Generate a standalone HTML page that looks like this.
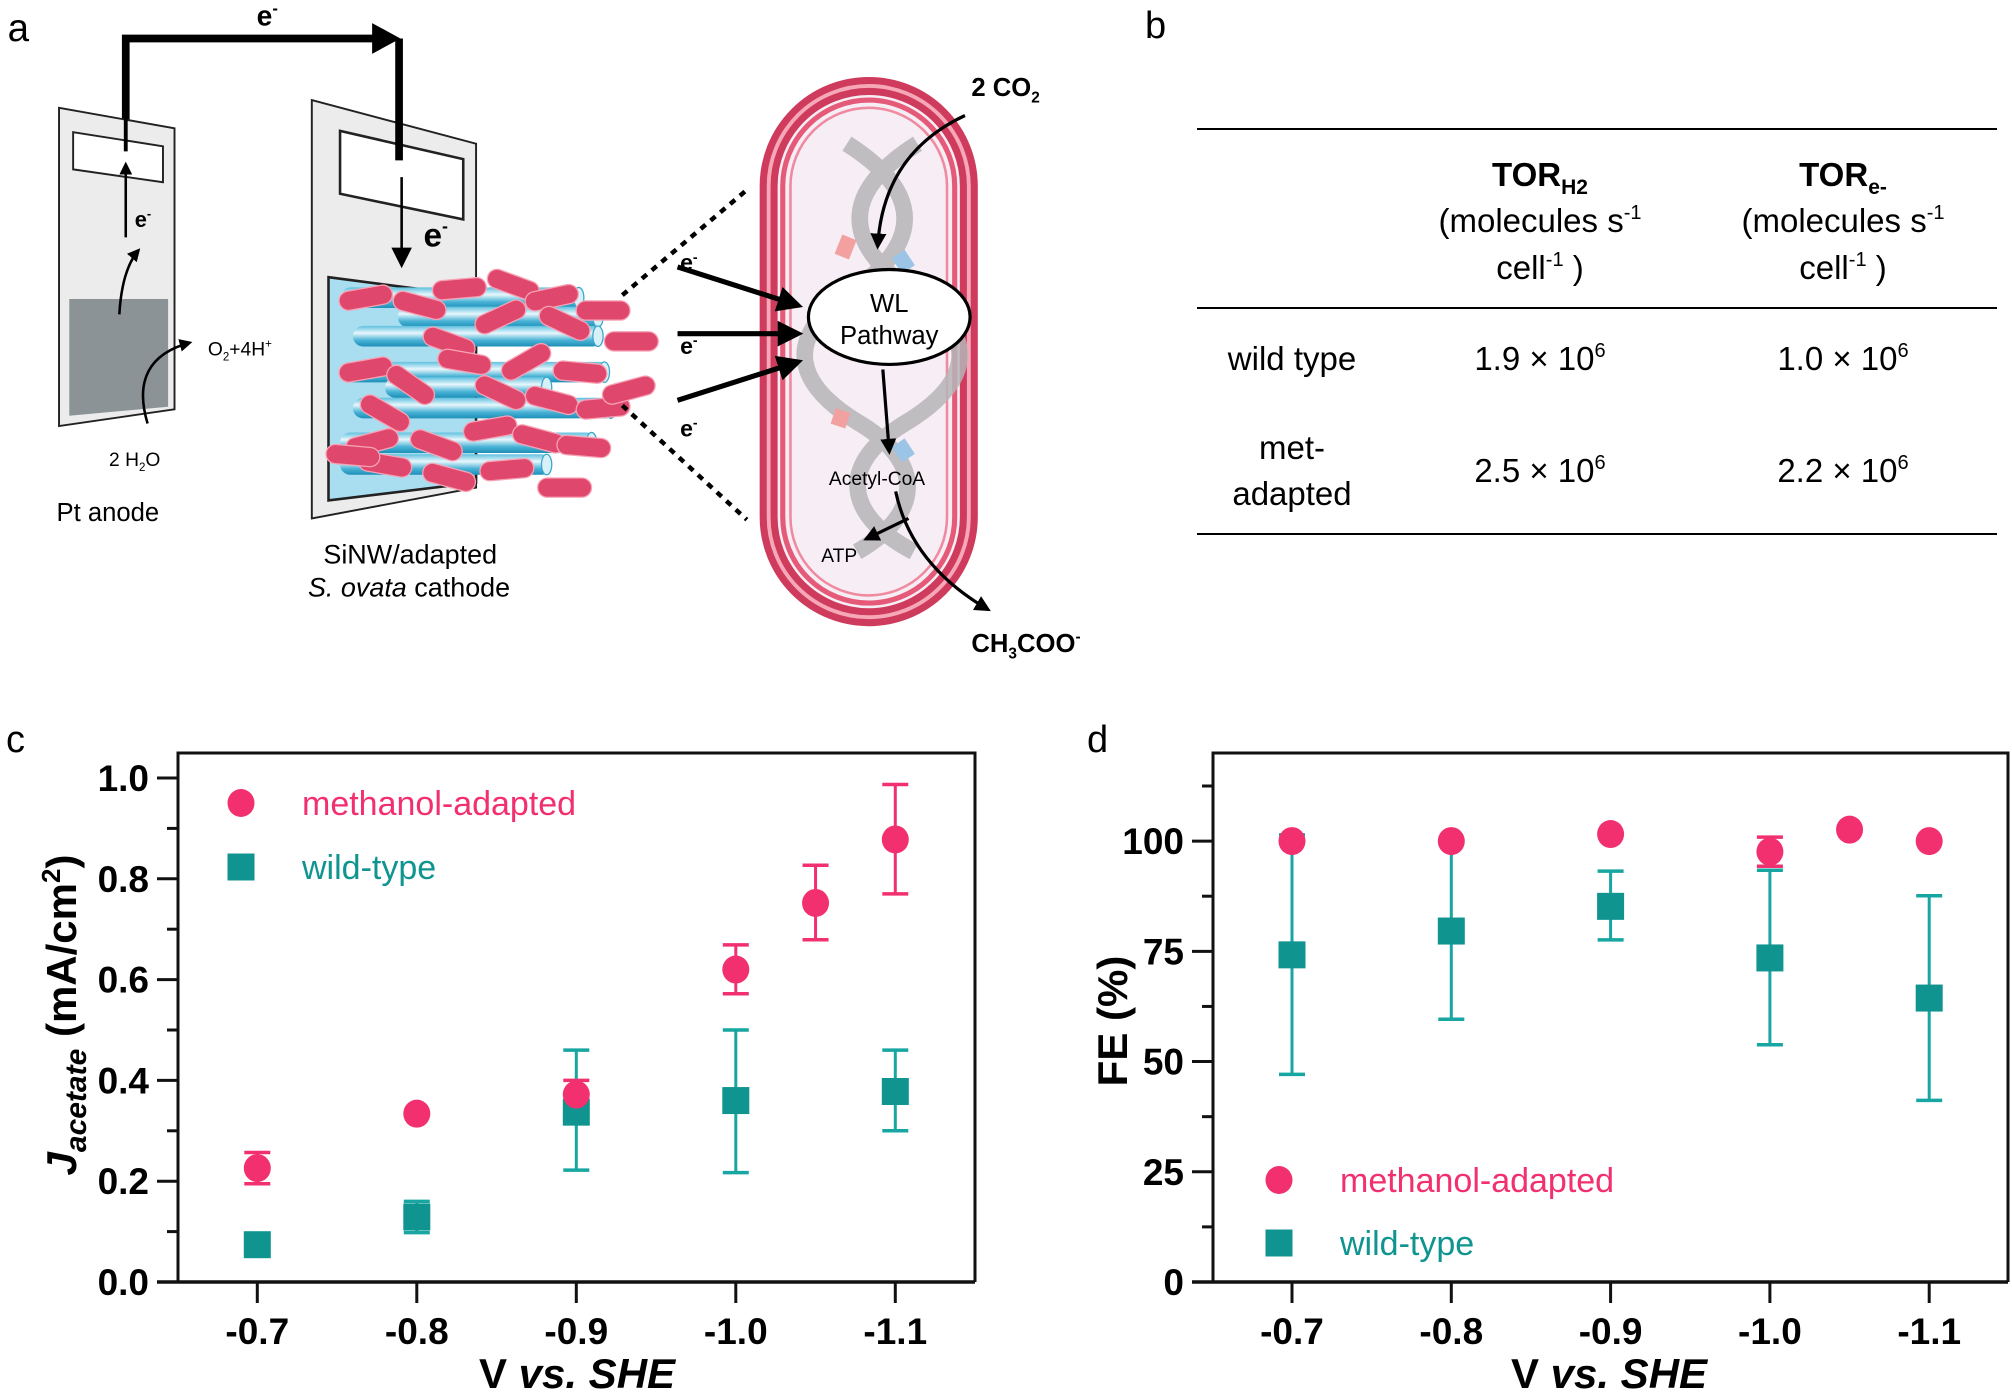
<!DOCTYPE html>
<html><head><meta charset="utf-8"><style>
html,body{margin:0;padding:0;background:#fff}
#wrap{position:relative;width:2012px;height:1399px;overflow:hidden;font-family:"Liberation Sans",sans-serif}
svg{position:absolute;left:0;top:0}
text{font-family:"Liberation Sans",sans-serif}
</style></head><body>
<div id="wrap">
<svg id="illus" width="2012" height="1399" viewBox="0 0 2012 1399">
<defs>
<linearGradient id="wire" x1="0" y1="0" x2="0" y2="1"><stop offset="0" stop-color="#5fc0df"/><stop offset="0.35" stop-color="#e8f7fc"/><stop offset="0.7" stop-color="#49b3d6"/><stop offset="1" stop-color="#1e8fb8"/></linearGradient>
<marker id="ah" markerWidth="8" markerHeight="8" refX="6" refY="4" orient="auto" markerUnits="strokeWidth"><path d="M0,0 L8,4 L0,8 z" fill="#000"/></marker>
<marker id="ahs" markerWidth="5" markerHeight="5" refX="4" refY="2.5" orient="auto" markerUnits="strokeWidth"><path d="M0,0 L5,2.5 L0,5 z" fill="#000"/></marker>
</defs>
<g transform="scale(1.2832)">
<text x="6" y="32" font-size="30">a</text>
<path d="M98,110 L98,30 L292,30" fill="none" stroke="#000" stroke-width="6"/>
<path d="M290,18 L312,30 L290,42 z" fill="#000"/>
<text x="200" y="20" font-size="22" font-weight="bold">e<tspan font-size="13" dy="-9">-</tspan></text>
<!-- anode -->
<path d="M46,84 L136,100 L136,319 L46,332 z" fill="#ececec" stroke="#222" stroke-width="1.5"/>
<path d="M57,103 L127,114 L127,142 L57,132 z" fill="#fff" stroke="#222" stroke-width="1.5"/>
<path d="M54,233 L131,233 L131,317 L54,324 z" fill="#8b9397"/>
<line x1="98" y1="30" x2="98" y2="118" stroke="#000" stroke-width="3"/>
<line x1="98" y1="185" x2="98" y2="128" stroke="#000" stroke-width="2" marker-end="url(#ahs)"/>
<text x="105" y="177" font-size="17" font-weight="bold">e<tspan font-size="10" dy="-7">-</tspan></text>
<path d="M93,245 Q95,210 108,195" fill="none" stroke="#000" stroke-width="2" marker-end="url(#ahs)"/>
<path d="M115,330 Q100,280 148,267" fill="none" stroke="#000" stroke-width="2" marker-end="url(#ahs)"/>
<text x="162" y="277" font-size="15">O<tspan font-size="9" dy="4">2</tspan><tspan dy="-4">+4H</tspan><tspan font-size="9" dy="-6">+</tspan></text>
<text x="85" y="363" font-size="15">2 H<tspan font-size="9" dy="4">2</tspan><tspan dy="-4">O</tspan></text>
<text x="44" y="406" font-size="20">Pt anode</text>
<!-- cathode -->
<path d="M243,78 L371,112 L371,380 L243,404 z" fill="#ececec" stroke="#222" stroke-width="1.5"/>
<path d="M265,102 L361,124 L361,171 L265,151 z" fill="#fff" stroke="#222" stroke-width="2"/>
<line x1="311" y1="30" x2="311" y2="125" stroke="#000" stroke-width="6"/>
<line x1="313" y1="138" x2="313" y2="205" stroke="#000" stroke-width="2" marker-end="url(#ah)"/>
<text x="330" y="192" font-size="26" font-weight="bold">e<tspan font-size="14" dy="-11">-</tspan></text>
<path d="M256,216 L371,231 L371,376 L256,390 z" fill="#a9def0" stroke="#222" stroke-width="2"/>
<g id="wires"></g>
<g id="bacteria"></g>
<text x="252" y="439" font-size="21">SiNW/adapted</text>
<text x="240" y="465" font-size="21"><tspan font-style="italic">S. ovata</tspan> cathode</text>
<line x1="485" y1="230" x2="582" y2="148" stroke="#000" stroke-width="3.5" stroke-dasharray="5,5"/>
<line x1="485" y1="316" x2="582" y2="405" stroke="#000" stroke-width="3.5" stroke-dasharray="5,5"/>
<g>
<rect x="599" y="67" width="156" height="414" rx="78" fill="#f6eef4" stroke="#cf3b5c" stroke-width="14"/>
<rect x="599" y="67" width="156" height="414" rx="78" fill="none" stroke="#f7a8b8" stroke-width="3"/>
<rect x="610" y="78" width="134" height="392" rx="67" fill="none" stroke="#e55a78" stroke-width="4"/>
<rect x="616" y="84" width="122" height="380" rx="61" fill="none" stroke="#f08aa0" stroke-width="2"/>
</g>
<g stroke="#b7b5b9" stroke-width="13" fill="none" opacity="0.85">
<path d="M660,112 C720,150 720,190 660,230 C610,265 620,300 670,330 C720,360 720,400 668,430"/>
<path d="M715,112 C655,150 655,190 715,230 C765,265 755,300 705,330 C655,360 655,400 712,430"/>
</g>
<path d="M662,185 l-6,15" stroke="#f2a0a0" stroke-width="12"/>
<path d="M700,198 l8,12" stroke="#9cc4e6" stroke-width="12"/>
<path d="M657,320 l-4,12" stroke="#f2a0a0" stroke-width="12"/>
<path d="M700,345 l8,12" stroke="#9cc4e6" stroke-width="12"/>
<ellipse cx="693" cy="247" rx="63" ry="37" fill="#fff" stroke="#000" stroke-width="2.5"/>
<text x="693" y="243" font-size="20" text-anchor="middle">WL</text>
<text x="693" y="268" font-size="20" text-anchor="middle">Pathway</text>
<line x1="528" y1="208" x2="622" y2="238" stroke="#000" stroke-width="4" marker-end="url(#ahs)"/>
<line x1="528" y1="260" x2="622" y2="260" stroke="#000" stroke-width="4" marker-end="url(#ahs)"/>
<line x1="528" y1="312" x2="622" y2="282" stroke="#000" stroke-width="4" marker-end="url(#ahs)"/>
<text x="530" y="211" font-size="18" font-weight="bold">e<tspan font-size="11" dy="-7">-</tspan></text>
<text x="530" y="276" font-size="18" font-weight="bold">e<tspan font-size="11" dy="-7">-</tspan></text>
<text x="530" y="340" font-size="18" font-weight="bold">e<tspan font-size="11" dy="-7">-</tspan></text>
<text x="757" y="75" font-size="20" font-weight="bold">2 CO<tspan font-size="12" dy="5">2</tspan></text>
<path d="M752,90 Q688,120 684,192" fill="none" stroke="#000" stroke-width="2.5" marker-end="url(#ahs)"/>
<line x1="688" y1="288" x2="693" y2="352" stroke="#000" stroke-width="2.5" marker-end="url(#ahs)"/>
<text x="646" y="378" font-size="15">Acetyl-CoA</text>
<path d="M698,383 Q710,440 770,475" fill="none" stroke="#000" stroke-width="2.5" marker-end="url(#ahs)"/>
<line x1="708" y1="404" x2="675" y2="420" stroke="#000" stroke-width="2.5" marker-end="url(#ahs)"/>
<text x="640" y="438" font-size="15">ATP</text>
<text x="757" y="508" font-size="20" font-weight="bold">CH<tspan font-size="12" dy="5">3</tspan><tspan dy="-5">COO</tspan><tspan font-size="12" dy="-8">-</tspan></text>
</g>
</svg>

<svg id="tbl" width="2012" height="1399">
<text x="1145" y="38" font-size="38">b</text>
<line x1="1197" y1="129" x2="1997" y2="129" stroke="#000" stroke-width="2"/>
<line x1="1197" y1="308" x2="1997" y2="308" stroke="#000" stroke-width="2"/>
<line x1="1197" y1="534" x2="1997" y2="534" stroke="#000" stroke-width="2"/>
<g font-size="33" text-anchor="middle">
<text x="1540" y="186" font-weight="bold">TOR<tspan font-size="21" dy="8">H2</tspan></text>
<text x="1540" y="232">(molecules s<tspan font-size="20" dy="-13">-1</tspan></text>
<text x="1540" y="279">cell<tspan font-size="20" dy="-13">-1</tspan><tspan dy="13"> )</tspan></text>
<text x="1843" y="186" font-weight="bold">TOR<tspan font-size="21" dy="8">e-</tspan></text>
<text x="1843" y="232">(molecules s<tspan font-size="20" dy="-13">-1</tspan></text>
<text x="1843" y="279">cell<tspan font-size="20" dy="-13">-1</tspan><tspan dy="13"> )</tspan></text>
<text x="1292" y="370">wild type</text>
<text x="1540" y="370">1.9 × 10<tspan font-size="20" dy="-13">6</tspan></text>
<text x="1843" y="370">1.0 × 10<tspan font-size="20" dy="-13">6</tspan></text>
<text x="1292" y="459">met-</text>
<text x="1292" y="505">adapted</text>
<text x="1540" y="482">2.5 × 10<tspan font-size="20" dy="-13">6</tspan></text>
<text x="1843" y="482">2.2 × 10<tspan font-size="20" dy="-13">6</tspan></text>
</g>
</svg>

<svg id="charts" width="2012" height="1399"></svg>
</div>
<script>
// ---- Chart c data ----
const cCats = [-0.7, -0.8, -0.9, -1.0, -1.05, -1.1];
const cMethVals = [0.226, 0.334, 0.372, 0.620, 0.752, 0.878];
const cMethHi = [0.257, null, 0.400, 0.669, 0.827, 0.987];
const cMethLo = [0.195, null, 0.345, 0.572, 0.679, 0.770];
const cWildCats = [-0.7, -0.8, -0.9, -1.0, -1.1];
const cWildVals = [0.074, 0.129, 0.337, 0.360, 0.378];
const cWildHi = [null, 0.160, 0.460, 0.500, 0.460];
const cWildLo = [null, 0.098, 0.222, 0.217, 0.300];
const cXTicks = [-0.7, -0.8, -0.9, -1.0, -1.1];
const cXTickLabels = ["-0.7", "-0.8", "-0.9", "-1.0", "-1.1"];
const cYTicks = [0, 0.2, 0.4, 0.6, 0.8, 1.0];
const cYTickLabels = ["0.0", "0.2", "0.4", "0.6", "0.8", "1.0"];
const cYMinor = [0.1, 0.3, 0.5, 0.7, 0.9];
// ---- Chart d data ----
const dCats = [-0.7, -0.8, -0.9, -1.0, -1.05, -1.1];
const dMethVals = [100, 100, 101.6, 97.6, 102.6, 100];
const dMethHi = [null, null, null, 100.9, null, null];
const dMethLo = [null, null, null, 94.3, null, null];
const dWildCats = [-0.7, -0.8, -0.9, -1.0, -1.1];
const dWildVals = [74.2, 79.6, 85.2, 73.5, 64.4];
const dWildHi = [101.4, 99.6, 93.2, 93.4, 87.6];
const dWildLo = [47.1, 59.6, 77.6, 53.8, 41.2];
const dXTicks = [-0.7, -0.8, -0.9, -1.0, -1.1];
const dXTickLabels = ["-0.7", "-0.8", "-0.9", "-1.0", "-1.1"];
const dYTicks = [0, 25, 50, 75, 100];
const dYTickLabels = ["0", "25", "50", "75", "100"];
const dYMinor = [12.5, 37.5, 62.5, 87.5, 112.5];

const PINK = "#f2306f", TEAL = "#0f9490", TEALL = "#17a6a1";
const NS = "http://www.w3.org/2000/svg";
const svg = document.getElementById("charts");
function mk(tag, attrs, parent) {
  const e = document.createElementNS(NS, tag);
  for (const k in attrs) e.setAttribute(k, attrs[k]);
  (parent || svg).appendChild(e);
  return e;
}
function txt(x, y, s, attrs, parent) {
  const e = mk("text", Object.assign({x: x, y: y}, attrs), parent);
  e.textContent = s;
  return e;
}

function drawChart(cfg) {
  const g = mk("g", {});
  
  
  const X = v => cfg.x0 + (cfg.xv0 - v) * cfg.xs;
  const Y = v => cfg.y0 - v * cfg.ys;
  const fr = mk("path", {d: `M${cfg.left},${cfg.y0} L${cfg.left},${cfg.top} L${cfg.right},${cfg.top} L${cfg.right},${cfg.y0}`, fill: "none", stroke: "#111", "stroke-width": 3}, g);
  
  
  const xa = mk("line", {x1: cfg.axStart, y1: cfg.y0, x2: cfg.right, y2: cfg.y0, stroke: "#111", "stroke-width": 3.5}, g);
  
  
  cfg.yTicks.forEach((v, i) => {
    mk("line", {x1: cfg.left - 21, y1: Y(v), x2: cfg.left, y2: Y(v), stroke: "#111", "stroke-width": 3}, g);
    const t = txt(cfg.left - 29, Y(v) + 13, cfg.yLabels[i], {"font-size": 37, "font-weight": "bold", "text-anchor": "end"}, g);
    
    
  });
  cfg.yMinor.forEach(v => mk("line", {x1: cfg.left - 11, y1: Y(v), x2: cfg.left, y2: Y(v), stroke: "#111", "stroke-width": 3}, g));
  cfg.xTicks.forEach((v, i) => {
    mk("line", {x1: X(v), y1: cfg.y0, x2: X(v), y2: cfg.y0 + 21, stroke: "#111", "stroke-width": 3}, g);
    const t = txt(X(v), cfg.y0 + 62, cfg.xLabels[i], {"font-size": 37, "font-weight": "bold", "text-anchor": "middle"}, g);
    
    
  });
  function errs(cats, hi, lo, color) {
    cats.forEach((c, i) => {
      if (hi[i] == null) return;
      const x = X(c);
      mk("line", {x1: x, y1: Y(hi[i]), x2: x, y2: Y(lo[i]), stroke: color, "stroke-width": 3}, g);
      mk("line", {x1: x - 13, y1: Y(hi[i]), x2: x + 13, y2: Y(hi[i]), stroke: color, "stroke-width": 3.5}, g);
      mk("line", {x1: x - 13, y1: Y(lo[i]), x2: x + 13, y2: Y(lo[i]), stroke: color, "stroke-width": 3.5}, g);
    });
  }
  errs(cfg.wCats, cfg.wHi, cfg.wLo, TEALL);
  errs(cfg.mCats, cfg.mHi, cfg.mLo, PINK);
  cfg.wCats.forEach((c, i) => {
    const r = mk("rect", {x: X(c) - 13.5, y: Y(cfg.wVals[i]) - 13.5, width: 27, height: 27, fill: TEAL}, g);
    
    
  });
  cfg.mCats.forEach((c, i) => {
    const ci = mk("ellipse", {cx: X(c), cy: Y(cfg.mVals[i]), rx: 13.5, ry: 14, fill: PINK}, g);
    
    
  });
  const l1 = mk("ellipse", {cx: cfg.legX, cy: cfg.legY1, rx: 13.5, ry: 14, fill: PINK}, g);
  
  
  const lt1 = txt(cfg.legX + 61, cfg.legY1 + 12, "methanol-adapted", {"font-size": 34, fill: PINK}, g);
  
  
  const l2 = mk("rect", {x: cfg.legX - 13.5, y: cfg.legY2 - 13.5, width: 27, height: 27, fill: TEAL}, g);
  
  
  const lt2 = txt(cfg.legX + 61, cfg.legY2 + 12, "wild-type", {"font-size": 34, fill: TEAL}, g);
  
  
  const xt = txt(cfg.xTitleX, 1388, "", {"font-size": 42, "font-weight": "bold", "text-anchor": "middle"}, g);
  xt.innerHTML = 'V <tspan font-style="italic">vs. SHE</tspan>';
  
  
  const yt = txt(0, 0, "", {"font-size": 42, "font-weight": "bold", "text-anchor": "middle", transform: `translate(${cfg.yTitleX},${cfg.yTitleY}) rotate(-90)`}, g);
  yt.innerHTML = cfg.yTitle;
  
  
  const pl = txt(cfg.plX, 752, cfg.panel, {"font-size": 38}, g);
  
  
}

drawChart({name: "chart-c-acetate-current", panel: "c", plX: 6,
  left: 178, right: 975, top: 753, y0: 1282, axStart: 157,
  x0: 257.3, xv0: -0.7, xs: 1595, ys: 504,
  xTicks: cXTicks, xLabels: cXTickLabels, yTicks: cYTicks, yLabels: cYTickLabels, yMinor: cYMinor,
  mCats: cCats, mVals: cMethVals, mHi: cMethHi, mLo: cMethLo,
  wCats: cWildCats, wVals: cWildVals, wHi: cWildHi, wLo: cWildLo,
  legX: 241, legY1: 803, legY2: 867, xTitleX: 577, yTitleX: 76, yTitleY: 1015,
  yTitle: '<tspan font-style="italic">J</tspan><tspan font-style="italic" font-size="30" dy="10">acetate</tspan><tspan dy="-10"> (mA/cm</tspan><tspan font-size="26" dy="-16">2</tspan><tspan dy="16">)</tspan>'});

drawChart({name: "chart-d-faradaic-efficiency", panel: "d", plX: 1087,
  left: 1213, right: 2008, top: 753, y0: 1282, axStart: 1192,
  x0: 1292, xv0: -0.7, xs: 1593, ys: 4.409,
  xTicks: dXTicks, xLabels: dXTickLabels, yTicks: dYTicks, yLabels: dYTickLabels, yMinor: dYMinor,
  mCats: dCats, mVals: dMethVals, mHi: dMethHi, mLo: dMethLo,
  wCats: dWildCats, wVals: dWildVals, wHi: dWildHi, wLo: dWildLo,
  legX: 1279, legY1: 1180, legY2: 1243, xTitleX: 1609, yTitleX: 1127, yTitleY: 1021,
  yTitle: 'FE (%)'});

const wires = document.getElementById("wires");
[[265,232,455],[310,247,470],[275,262,470],[265,290,475],[275,318,480],[300,302,430],[265,345,465],[265,362,430]].forEach(w => {
  const [x1, y, x2] = w;
  const r = document.createElementNS(NS, "rect");
  r.setAttribute("x", x1); r.setAttribute("y", y - 8); r.setAttribute("width", x2 - x1); r.setAttribute("height", 16); r.setAttribute("rx", 8);
  r.setAttribute("fill", "url(#wire)");
  
  
  wires.appendChild(r);
  const e = document.createElementNS(NS, "ellipse");
  e.setAttribute("cx", x2 - 4); e.setAttribute("cy", y); e.setAttribute("rx", 4); e.setAttribute("ry", 8);
  e.setAttribute("fill", "#d8f1f8"); e.setAttribute("stroke", "#3aa7cc");
  wires.appendChild(e);
});
const bac = document.getElementById("bacteria");
[[285,232,-10],[327,238,15],[358,225,-5],[400,222,20],[430,232,-12],[470,242,0],[440,252,25],[390,247,-25],[350,267,20],[285,288,-10],[320,300,35],[362,282,10],[410,282,-30],[452,290,5],[492,266,0],[300,322,30],[390,306,25],[430,312,15],[470,318,-5],[290,345,-15],[340,347,20],[382,334,-10],[420,342,15],[455,348,5],[300,362,10],[350,372,15],[395,366,-5],[440,380,0],[490,304,-15],[275,355,5]].forEach(b => {
  const r = document.createElementNS(NS, "rect");
  r.setAttribute("x", -21); r.setAttribute("y", -7.5); r.setAttribute("width", 42); r.setAttribute("height", 15); r.setAttribute("rx", 7.5);
  r.setAttribute("fill", "#e0476c"); r.setAttribute("stroke", "#f7a3b6"); r.setAttribute("stroke-width", "1");
  r.setAttribute("transform", `translate(${b[0]},${b[1]}) rotate(${b[2]})`);
  
  
  bac.appendChild(r);
});
</script>
</body></html>
